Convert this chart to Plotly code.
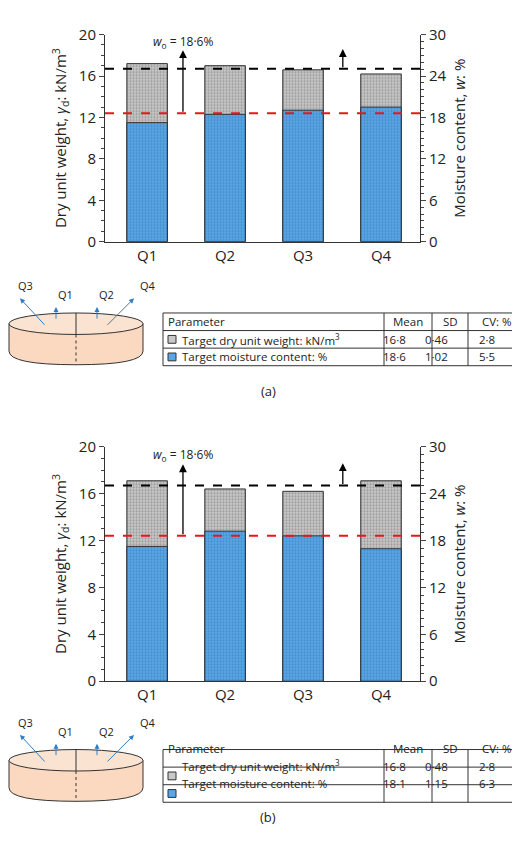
import plotly.graph_objects as go

quarters = ["Q1", "Q2", "Q3", "Q4"]
dry_a = [17.2, 17.0, 16.6, 16.2]
moist_a = [17.25, 18.45, 19.05, 19.5]
dry_b = [17.1, 16.4, 16.2, 17.1]
moist_b = [17.25, 19.2, 18.6, 16.95]
target_dry = 16.7
target_moist = 18.6
table_head = ["Parameter", "Mean", "SD", "CV: %"]
table_params = ["Target dry unit weight: kN/m<sup>3</sup>", "Target moisture content: %"]
table_a = [["16·8", "0·46", "2·8"], ["18·6", "1·02", "5·5"]]
table_b = [["16·8", "0·48", "2·8"], ["18·1", "1·15", "6·3"]]

W, H = 520, 857
FONT = "Open Sans"
GREY = "#c8c8c8"
BLUE = "#5aa6e6"
xs = list(range(4))


def X(px):
    return px / W


def Y(py):
    return 1 - py / H


fig = go.Figure()
panels = [
    (dry_a, moist_a, 16, 228, table_a, 301, "(a)"),
    (dry_b, moist_b, 438, 678, table_b, 748, "(b)"),
]
layout = dict(width=W, height=H, margin=dict(l=0, r=0, t=0, b=0),
              plot_bgcolor="white", paper_bgcolor="white", showlegend=False,
              barmode="overlay", font=dict(family=FONT, size=14, color="#222"))

shapes, annos = [], []
p = dict(xref="paper", yref="paper", layer="above")
for i, (dry, moist, ytop, ybot, tab, ttop, lab) in enumerate(panels):
    xa = "x" if i == 0 else "x2"
    yl = "y" if i == 0 else "y3"
    yr = "y2" if i == 0 else "y4"
    kx = "xaxis" if i == 0 else "xaxis2"
    kl = "yaxis" if i == 0 else "yaxis3"
    kr = "yaxis2" if i == 0 else "yaxis4"
    dom = [Y(ybot), Y(ytop)]
    layout[kx] = dict(domain=[X(97), X(412)], range=[-0.54, 3.5], tickvals=xs,
                      ticktext=quarters, showline=True, linecolor="#333",
                      ticks="", anchor=yl, tickfont=dict(size=15), zeroline=False)
    layout[kl] = dict(domain=dom, range=[0, 20], dtick=4, showline=True, linecolor="#333",
                      ticks="outside", ticklen=5, showgrid=False, anchor=xa, zeroline=False,
                      tickfont=dict(size=15),
                      minor=dict(dtick=1, ticks="outside", ticklen=3),
                      title=dict(text="Dry unit weight, <i>γ</i><sub>d</sub>: kN/m<sup>3</sup>",
                                 font=dict(size=15), standoff=8))
    layout[kr] = dict(domain=dom, range=[0, 30], dtick=6, overlaying=yl, side="right",
                      anchor=xa, showline=True, linecolor="#333", ticks="outside",
                      ticklen=5, showgrid=False, zeroline=False, tickfont=dict(size=15),
                      minor=dict(dtick=1, ticks="outside", ticklen=3),
                      title=dict(text="Moisture content, <i>w</i>: %", font=dict(size=15),
                                 standoff=8))
    fig.add_trace(go.Bar(x=xs, y=dry, xaxis=xa, yaxis=yl, width=0.52,
                         marker=dict(color=GREY, line=dict(color="#333", width=1),
                                     pattern=dict(shape=".", fgcolor="#666", size=3, solidity=0.4))))
    fig.add_trace(go.Bar(x=xs, y=moist, xaxis=xa, yaxis=yr, width=0.52,
                         marker=dict(color=BLUE, line=dict(color="#333", width=1),
                                     pattern=dict(shape=".", fgcolor="#2a6fb0", size=3, solidity=0.4))))
    fig.add_trace(go.Scatter(x=[-0.54, 3.5], y=[target_dry] * 2, xaxis=xa, yaxis=yl,
                             mode="lines", line=dict(color="black", dash="dash", width=2)))
    fig.add_trace(go.Scatter(x=[-0.54, 3.5], y=[target_moist] * 2, xaxis=xa, yaxis=yr,
                             mode="lines", line=dict(color="#e8161b", dash="dash", width=2)))
    ym = target_moist * 20 / 30
    annos.append(dict(x=0.46, y=18.5, xref=xa, yref=yl, ax=0.46, ay=ym, axref=xa, ayref=yl,
                      showarrow=True, arrowhead=2, arrowsize=1.2, arrowwidth=1.3,
                      arrowcolor="black", text=""))
    annos.append(dict(x=2.51, y=18.6, xref=xa, yref=yl, ax=2.51, ay=target_dry, axref=xa,
                      ayref=yl, showarrow=True, arrowhead=2, arrowsize=1.2, arrowwidth=1.3,
                      arrowcolor="black", text=""))
    annos.append(dict(x=0.46, y=19.3, xref=xa, yref=yl, showarrow=False, xanchor="center",
                      text="<i>w</i><sub>o</sub> = 18·6%", font=dict(size=12)))
    annos.append(dict(x=2.51, y=20.1, xref=xa, yref=yl, showarrow=False, xanchor="center",
                      yanchor="bottom", text="<i>γ</i><sub>do</sub> = 16·7 kN/m<sup>3</sup>",
                      font=dict(size=12)))

    # cylinder sketch
    cy = ttop + 11
    shapes.append(dict(type="path", **p, fillcolor="#fbd9c0", line=dict(color="#333", width=1),
                       path=(f"M {X(1)} {Y(cy)} L {X(1)} {Y(cy+28)} Q {X(1)} {Y(cy+42)} {X(68)} {Y(cy+42)} "
                             f"Q {X(135)} {Y(cy+42)} {X(135)} {Y(cy+28)} L {X(135)} {Y(cy)} Z")))
    shapes.append(dict(type="circle", **p, x0=X(1), x1=X(135), y0=Y(cy + 11), y1=Y(cy - 11),
                       fillcolor="#fbe3d2", line=dict(color="#333", width=1)))
    shapes.append(dict(type="line", **p, x0=X(68), x1=X(68), y0=Y(cy - 11), y1=Y(cy + 11),
                       line=dict(color="#333", width=1)))
    shapes.append(dict(type="line", **p, x0=X(68), x1=X(68), y0=Y(cy + 11), y1=Y(cy + 42),
                       line=dict(color="#333", width=1, dash="dot")))
    for q, (x0, y0, x1, y1) in zip(["Q3", "Q1", "Q2", "Q4"],
                                   [(38, cy + 2, 12, cy - 26), (48, cy - 4, 48, cy - 17),
                                    (89, cy - 4, 89, cy - 17), (98, cy + 2, 126, cy - 26)]):
        annos.append(dict(x=X(x1), y=Y(y1), ax=x0 - x1, ay=y0 - y1, xref="paper", yref="paper",
                          showarrow=True, arrowhead=2, arrowwidth=1, arrowcolor="#2f7ec4", text=""))
        annos.append(dict(x=X(x1 + (-4 if q == "Q3" else 4 if q == "Q4" else 0)), y=Y(y1 - 3),
                          xref="paper", yref="paper", text=q, showarrow=False, yanchor="bottom",
                          font=dict(size=11)))

    # table
    cols = [155, 376, 424, 460, 518]
    rh = 18
    for r in range(4):
        shapes.append(dict(type="line", **p, x0=X(cols[0]), x1=X(cols[-1]), y0=Y(ttop + r * rh),
                           y1=Y(ttop + r * rh), line=dict(color="#333", width=1)))
    for c in cols:
        shapes.append(dict(type="line", **p, x0=X(c), x1=X(c), y0=Y(ttop), y1=Y(ttop + 3 * rh),
                           line=dict(color="#333", width=1)))
    for c, t in enumerate(table_head):
        annos.append(dict(x=X(cols[0] + 3 if c == 0 else (cols[c] + cols[c + 1]) / 2),
                          y=Y(ttop + rh / 2), xref="paper", yref="paper", text=t, showarrow=False,
                          xanchor="left" if c == 0 else "center", font=dict(size=11.5)))
    for r, (name, vals, col) in enumerate(zip(table_params, tab, [GREY, BLUE])):
        yc = ttop + rh * (r + 1.5)
        shapes.append(dict(type="rect", **p, x0=X(160), x1=X(168), y0=Y(yc + 4), y1=Y(yc - 4),
                           fillcolor=col, line=dict(color="#333", width=1)))
        annos.append(dict(x=X(172), y=Y(yc), xref="paper", yref="paper", text=name,
                          showarrow=False, xanchor="left", font=dict(size=11.5)))
        for c, v in enumerate(vals):
            annos.append(dict(x=X((cols[c + 1] + cols[c + 2]) / 2), y=Y(yc), xref="paper",
                              yref="paper", text=v, showarrow=False, font=dict(size=11.5)))
    annos.append(dict(x=X(260), y=Y(ttop + 80), xref="paper", yref="paper", text=lab,
                      showarrow=False, font=dict(size=13)))

layout["shapes"] = shapes
layout["annotations"] = annos
fig.update_layout(**layout)
fig.write_html("out.html")
